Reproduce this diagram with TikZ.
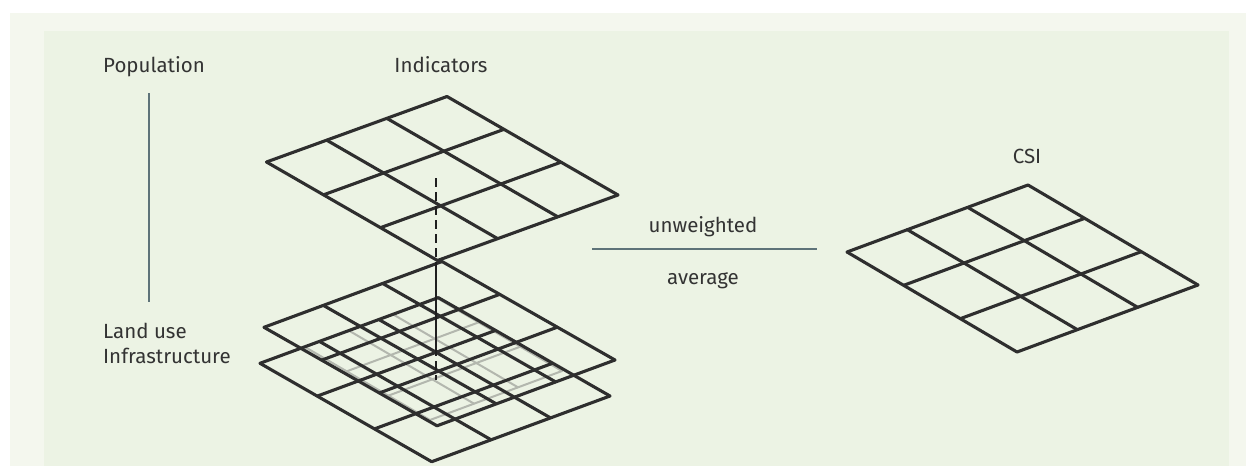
\documentclass[tikz,border=0pt]{standalone}
\usepackage{fontspec}
\setmainfont{Fira Sans}
\usetikzlibrary{calc}
\definecolor{outerbg}{HTML}{F4F7EE}
\definecolor{innerbg}{HTML}{ECF3E4}
\definecolor{txt}{HTML}{333333}
\definecolor{rulecol}{HTML}{5E7379}
\definecolor{gridgray}{HTML}{B3B7AE}
\newcommand{\mygrid}[5]{%
  \coordinate (#1-T) at #2;
  \coordinate (#1-L) at #3;
  \coordinate (#1-R) at #4;
  \coordinate (#1-B) at ($(#1-L)+(#1-R)-(#1-T)$);
  \foreach \i in {0,1,2,3}{
    \draw[#5] ($(#1-T)!\i/3!(#1-L)$) -- ($(#1-R)!\i/3!(#1-B)$);
    \draw[#5] ($(#1-T)!\i/3!(#1-R)$) -- ($(#1-L)!\i/3!(#1-B)$);
  }%
}
\begin{document}
\begin{tikzpicture}[x=1pt,y=-1pt,
  gridline/.style={line width=3.1pt, draw=black!82, line join=round, line cap=round},
  grayline/.style={line width=2pt, draw=gridgray, line cap=round},
  label/.style={font=\fontsize{20.5}{24}\selectfont, text=txt, inner sep=0pt},
  rulel/.style={line width=1.5pt, draw=rulecol},
  vline/.style={line width=2.4pt, draw=black!88},
  vdash/.style={line width=2.4pt, draw=black!88, dash pattern=on 9pt off 5pt}]
\useasboundingbox (0,0) rectangle (1246,466);
\fill[white] (0,0) rectangle (1246,466);
\fill[outerbg] (10,13) rectangle (1246,466);
\fill[innerbg] (44,31) rectangle (1229,466);

% texts
\node[label, anchor=base west] (pop) at (103,72) {Population};
\node[label, anchor=base] (ind) at (441,72) {Indicators};
\node[label, anchor=base] (csi) at (1027,163) {CSI};
\node[label, anchor=base] (unw) at (703,232) {unweighted};
\node[label, anchor=base] (avg) at (703,284) {average};
\node[label, anchor=base west] (lu) at (103,338) {Land use};
\node[label, anchor=base west] (inf) at (103,363) {Infrastructure};

% left rule
\coordinate (lr-top) at (149,93);
\coordinate (lr-bot) at (149,302);
\draw[rulel] (lr-top) -- (lr-bot);
% middle rule
\coordinate (mr-l) at (592,249);
\coordinate (mr-r) at (817,249);
\draw[rulel] (mr-l) -- (mr-r);

% grids
\mygrid{gg}{(437,298)}{(305,347)}{(562,371)}{grayline}
\mygrid{g2}{(438.3,297.6)}{(260,363.3)}{(610,396)}{gridline}
\mygrid{g1}{(442,261.5)}{(264,327.3)}{(615,360)}{gridline}
\mygrid{top}{(447,96.5)}{(266.5,162)}{(618,195)}{gridline}
\mygrid{csig}{(1028,185)}{(847,252)}{(1198,285)}{gridline}

% vertical connector
\coordinate (v0) at (436,178);
\coordinate (v1) at (436,262);
\coordinate (v2) at (436,347);
\coordinate (v3) at (436,380);
\draw[vdash] (v0) -- (v1);
\draw[vline] (v1) -- (v2);
\draw[vdash] (v2) -- (v3);
\end{tikzpicture}
\end{document}
